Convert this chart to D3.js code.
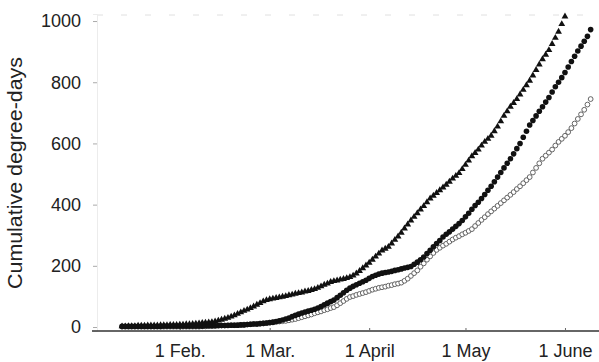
<!DOCTYPE html>
<html>
<head>
<meta charset="utf-8">
<script src="https://cdn.jsdelivr.net/npm/d3@7"></script>
<style>
  html, body { margin: 0; padding: 0; background: #ffffff; }
  svg { display: block; }
  text { font-family: "Liberation Sans", Arial, sans-serif; fill: #222; }
</style>
</head>
<body>
<div id="chart"></div>
<script>
// ---- data (day of year, cumulative degree-days) ----
const firstDay = 14; // Jan 14
const triangleSeries = [2,2,3,3,3,4,4,4,5,5,5,5,6,6,6,7,7,7,8,8,9,9,10,11,12,13,14,15,16,18,21,24,27,30,34,38,43,48,53,57,62,67,73,78,84,88,91,93,95,97,99,101,104,106,109,111,113,116,118,121,124,128,133,138,142,147,150,152,155,157,160,163,168,175,183,192,201,210,220,230,240,250,256,262,273,285,296,308,322,335,348,360,372,384,395,408,420,429,438,447,456,465,475,485,494,503,516,530,544,558,569,580,593,605,615,625,640,655,672,690,705,720,732,745,760,775,790,805,822,840,858,875,890,905,925,945,965,990,1015];
const filledCircleSeries = [2,2,2,2,2,2,2,2,2,2,2,2,2,3,3,3,3,3,3,3,3,3,3,3,3,3,4,4,4,4,5,5,5,5,6,6,6,7,7,8,9,10,10,11,12,13,15,16,18,20,23,26,29,34,38,42,46,49,52,55,58,62,67,73,78,83,88,96,104,112,120,127,133,138,143,148,153,159,165,169,173,176,178,180,182,185,187,190,193,195,198,205,212,220,229,240,251,262,273,283,294,303,311,320,329,338,348,360,372,385,397,408,420,433,447,460,475,490,505,520,535,550,566,583,600,620,640,660,675,690,705,720,735,750,768,785,800,815,832,850,868,885,902,918,934,950,972];
const openCircleSeries = [1,1,1,1,1,1,1,1,1,1,1,1,1,1,1,1,1,1,1,1,1,1,1,1,1,2,2,3,3,4,4,5,5,6,6,6,7,7,8,8,9,10,10,11,12,13,14,15,17,18,19,20,22,24,26,29,32,35,38,41,45,48,51,55,58,62,65,71,78,85,92,98,101,105,108,111,114,118,122,125,128,130,132,135,137,140,142,145,151,158,167,176,185,197,208,220,231,242,252,259,266,272,279,286,292,297,303,308,314,320,330,340,350,359,369,378,387,396,405,414,423,432,441,451,460,470,480,490,505,520,535,550,560,570,580,593,605,615,625,637,650,665,680,695,710,727,745];

const monthDays = [32, 60, 91, 121, 152];
const monthLabels = ["1 Feb.", "1 Mar.", "1 April", "1 May", "1 June"];
const yTicks = [0, 200, 400, 600, 800, 1000];
const yTitle = "Cumulative degree-days";

// ---- layout ----
const W = 599, H = 362;
const svg = d3.select("#chart").append("svg").attr("width", W).attr("height", H);

const x = d3.scaleLinear().domain([6.2, 162.6]).range([97, 599]);
const y = d3.scaleLinear().domain([-13, 1023]).range([331, 14]);

const toPts = arr => arr.map((v, i) => ({ d: firstDay + i, v }));

// faint top frame (scanned)
svg.append("line")
  .attr("x1", x(6.2)).attr("x2", W).attr("y1", y(1023) + 1).attr("y2", y(1023) + 1)
  .attr("stroke", "#e0e0e0").attr("stroke-width", 1).attr("stroke-dasharray", "6,18");

// y axis (faint)
const yAxis = d3.axisLeft(y).tickValues(yTicks).tickFormat(d3.format("d")).tickSize(4).tickPadding(12);
const gy = svg.append("g").attr("transform", `translate(${x(6.2)},0)`).call(yAxis);
gy.select(".domain").attr("stroke", "#ececec");
gy.selectAll(".tick line").attr("stroke", "#aaa");
gy.selectAll(".tick text").style("font-size", "18px").style("fill", "#222")
  .style("font-family", '"Liberation Sans", Arial, sans-serif');

// x axis
const xAxis = d3.axisBottom(x).tickValues(monthDays).tickFormat((d, i) => monthLabels[i])
  .tickSizeInner(-3).tickSizeOuter(0).tickPadding(13);
const gx = svg.append("g").attr("transform", `translate(0,${y(-13)})`).call(xAxis);
gx.select(".domain").attr("stroke", "#333").attr("stroke-width", 1.3)
  .attr("d", `M${x(6.2) - 5},0H${W}`);
gx.selectAll(".tick line").attr("stroke", "#666");
gx.selectAll(".tick text").style("font-size", "18px").style("fill", "#222")
  .style("font-family", '"Liberation Sans", Arial, sans-serif');

// y title
svg.append("text")
  .attr("transform", `translate(22,173) rotate(-90)`)
  .attr("text-anchor", "middle")
  .style("font-size", "19.5px")
  .attr("textLength", 232).attr("lengthAdjust", "spacingAndGlyphs")
  .text(yTitle);

// series
const plot = svg.append("g");

plot.append("g").selectAll("circle").data(toPts(openCircleSeries)).join("circle")
  .attr("cx", p => x(p.d)).attr("cy", p => y(p.v)).attr("r", 2.4)
  .attr("fill", "#fff").attr("stroke", "#555").attr("stroke-width", 0.9);

plot.append("g").selectAll("circle").data(toPts(filledCircleSeries)).join("circle")
  .attr("cx", p => x(p.d)).attr("cy", p => y(p.v)).attr("r", 2.8)
  .attr("fill", "#111");

const tri = d3.symbol().type(d3.symbolTriangle).size(20);
plot.append("g").selectAll("path").data(toPts(triangleSeries)).join("path")
  .attr("transform", p => `translate(${x(p.d)},${y(p.v)})`)
  .attr("d", tri).attr("fill", "#111");
</script>
</body>
</html>
